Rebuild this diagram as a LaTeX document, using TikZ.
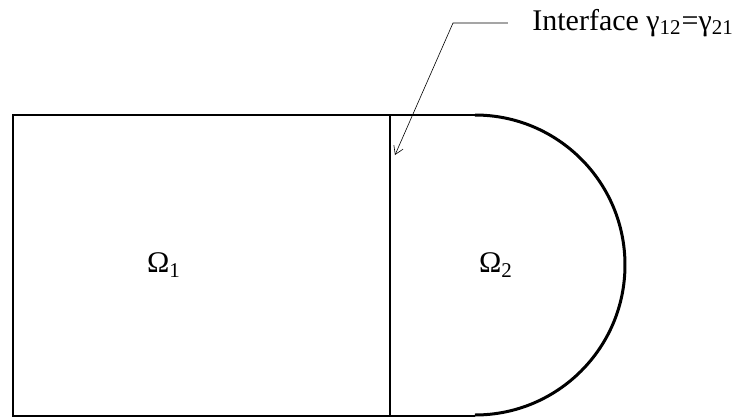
\documentclass[tikz,border=0pt]{standalone}
\usepackage{fontspec}
\setmainfont{Liberation Serif}
\usetikzlibrary{arrows.meta, positioning}

\begin{document}
\begin{tikzpicture}[
    x=0.5pt, y=-0.5pt,
    font=\fontsize{15}{17}\selectfont,
    % Styles
    boundary/.style={draw=black, line width=1pt},
    curved/.style={draw=black, line width=1.5pt},
    leader/.style={draw=black, line width=0.3pt},
    domlabel/.style={inner sep=0pt}
]
\useasboundingbox (0,0) rectangle (736,419);

% --- Domains ---
\draw[boundary] (390,115) -- (13,115) -- (13,416) -- (390,416);
\draw[boundary] (390,115) -- (390,416);
\draw[boundary] (390,115) -- (475,115);
\draw[boundary] (390,416) -- (475,416);
\draw[curved] (475,115) arc[start angle=90, end angle=-90, radius=75pt];

\node[domlabel] (omega1) at (164,265) {Ω\textsubscript{1}};
\node[domlabel] (omega2) at (496,265) {Ω\textsubscript{2}};

% --- Interface label ---
\node[anchor=west, inner sep=0pt] (iface) at (532,23) {Interface γ\textsubscript{12}=γ\textsubscript{21}};
\coordinate (bend) at (453,23);
\coordinate (tip) at (395,155);
\draw[leader, -{Straight Barb[length=4pt, width=5pt]}] ([xshift=-12pt]iface.west) -- (bend) -- (tip);

\end{tikzpicture}
\end{document}
